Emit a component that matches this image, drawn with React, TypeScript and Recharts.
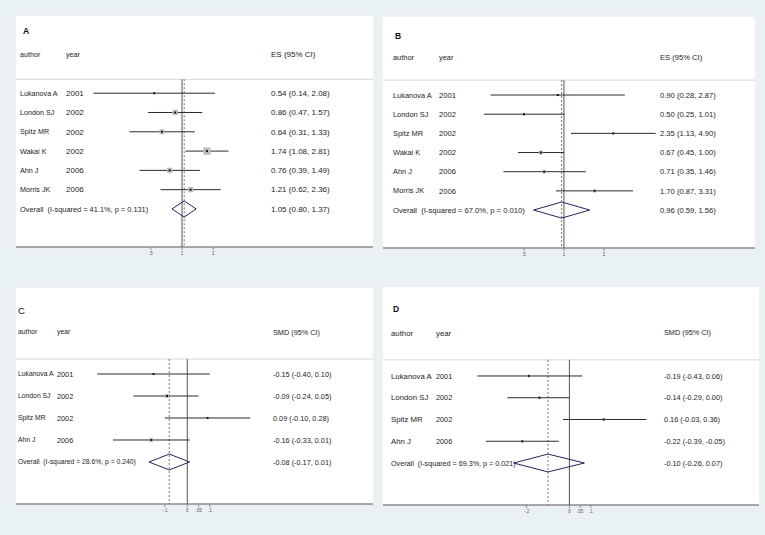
import React from "react";
import {
  ScatterChart,
  Scatter,
  XAxis,
  YAxis,
  ReferenceLine,
  CartesianGrid,
} from "recharts";

// ---- panel A (ES, log scale) ----
const authorsA = ["Lukanova A", "London SJ", "Spitz MR", "Wakai K", "Ahn J", "Morris JK"];
const yearsA = [2001, 2002, 2002, 2002, 2006, 2006];
const esA = [0.54, 0.86, 0.64, 1.74, 0.76, 1.21];
const loA = [0.14, 0.47, 0.31, 1.08, 0.39, 0.62];
const hiA = [2.08, 1.57, 1.33, 2.81, 1.49, 2.36];
const weightsA = [3, 17, 14, 32, 17, 17];
const overallA = [1.05, 0.8, 1.37];
const hetA = [41.1, 0.131];

// ---- panel B (ES, log scale) ----
const authorsB = ["Lukanova A", "London SJ", "Spitz MR", "Wakai K", "Ahn J", "Morris JK"];
const yearsB = [2001, 2002, 2002, 2002, 2006, 2006];
const esB = [0.9, 0.5, 2.35, 0.67, 0.71, 1.7];
const loB = [0.28, 0.25, 1.13, 0.45, 0.35, 0.87];
const hiB = [2.87, 1.01, 4.9, 1.0, 1.46, 3.31];
const weightsB = [7, 13, 11, 29, 20, 20];
const overallB = [0.96, 0.59, 1.56];
const hetB = [67.0, 0.01];

// ---- panel C (SMD) ----
const authorsC = ["Lukanova A", "London SJ", "Spitz MR", "Ahn J"];
const yearsC = [2001, 2002, 2002, 2006];
const esC = [-0.15, -0.09, 0.09, -0.16];
const loC = [-0.4, -0.24, -0.1, -0.33];
const hiC = [0.1, 0.05, 0.28, 0.01];
const weightsC = [9, 44, 9, 38];
const overallC = [-0.08, -0.17, 0.01];
const hetC = [28.6, 0.24];

// ---- panel D (SMD) ----
const authorsD = ["Lukanova A", "London SJ", "Spitz MR", "Ahn J"];
const yearsD = [2001, 2002, 2002, 2006];
const esD = [-0.19, -0.14, 0.16, -0.22];
const loD = [-0.43, -0.29, -0.03, -0.39];
const hiD = [0.06, 0.0, 0.36, -0.05];
const weightsD = [24, 26, 26, 24];
const overallD = [-0.1, -0.26, 0.07];
const hetD = [69.3, 0.021];

const ticksRatio = [0.5, 1, 2];
const tickLabelsRatio = [".5", "1", "2"];
const ticksC = [-0.1, 0, 0.05, 0.1];
const tickLabelsC = ["-.1", "0", ".05", ".1"];
const ticksD = [-0.2, 0, 0.05, 0.1];
const tickLabelsD = ["-.2", "0", ".05", ".1"];

const FONT = "'Liberation Sans', Arial, sans-serif";
const BG = "#e9f1f3";
const INK = "#1c1c1c";

interface Layout {
  left: number;
  top: number;
  width: number;
  height: number;
  margin: { top: number; left: number; right: number };
  axisHeight: number;
  log: boolean;
  xDomain: [number, number];
  yDomain: [number, number];
  titleRow: number;
  headerRow: number;
  lineRow: number;
  cols: { title: number; author: number; year: number; est: number };
  fonts: { label: number; num: number; overall: number };
  diamondHalf: number;
  boxScale: number;
  titleBold: boolean;
}

const layoutA: Layout = {
  left: 0, top: 0, width: 383, height: 268,
  margin: { top: 16, left: 16, right: 10 }, axisHeight: 21,
  log: true, xDomain: [0.025, 69.7], yDomain: [-4, 7.97],
  titleRow: -3.2, headerRow: -2, lineRow: -0.72,
  cols: { title: 7, author: 4, year: 50, est: 255 },
  fonts: { label: 7.2, num: 8.0, overall: 7.4 },
  diamondHalf: 0.42, boxScale: 1.29, titleBold: true,
};
const layoutB: Layout = {
  left: 383, top: 0, width: 382, height: 268,
  margin: { top: 17, left: 0, right: 10 }, axisHeight: 20,
  log: true, xDomain: [0.04343, 27.4], yDomain: [-4.07, 7.98],
  titleRow: -3.08, headerRow: -1.98, lineRow: -0.78,
  cols: { title: 12, author: 10, year: 56, est: 277 },
  fonts: { label: 7.4, num: 7.6, overall: 7.6 },
  diamondHalf: 0.42, boxScale: 0.74, titleBold: true,
};
const layoutC: Layout = {
  left: 0, top: 268, width: 383, height: 267,
  margin: { top: 20, left: 16, right: 10 }, axisHeight: 31,
  log: false, xDomain: [-0.761, 0.825], yDomain: [-3.91, 5.91],
  titleRow: -2.86, headerRow: -1.91, lineRow: -0.68,
  cols: { title: 2, author: 2, year: 41, est: 257 },
  fonts: { label: 6.8, num: 7.3, overall: 6.8 },
  diamondHalf: 0.36, boxScale: 0.65, titleBold: false,
};
const layoutD: Layout = {
  left: 383, top: 268, width: 382, height: 267,
  margin: { top: 19, left: 0, right: 6 }, axisHeight: 30,
  log: false, xDomain: [-0.871, 0.886], yDomain: [-4.09, 5.93],
  titleRow: -3.08, headerRow: -1.98, lineRow: -0.74,
  cols: { title: 10, author: 8, year: 53, est: 281 },
  fonts: { label: 7.8, num: 7.3, overall: 7.2 },
  diamondHalf: 0.41, boxScale: 0.53, titleBold: true,
};

interface PanelProps {
  title: string;
  effect: string;
  authors: string[];
  years: number[];
  es: number[];
  lo: number[];
  hi: number[];
  weights: number[];
  overall: number[];
  het: number[];
  nullValue: number;
  ticks: number[];
  tickLabels: string[];
  layout: Layout;
}

const fmt = (v: number) => v.toFixed(2);
const ciText = (e: number, l: number, h: number) => `${fmt(e)} (${fmt(l)}, ${fmt(h)})`;
const noDot = () => <g />;

const ForestPanel = ({
  title, effect, authors, years, es, lo, hi, weights, overall, het,
  nullValue, ticks, tickLabels, layout,
}: PanelProps) => {
  const n = authors.length;
  const studies = authors.map((_, i) => ({ x: es[i], y: i, lo: lo[i], hi: hi[i], w: weights[i] }));
  const [oEs, oLo, oHi] = overall;
  const h = layout.diamondHalf;
  const yBottom = layout.yDomain[1];
  const diamond = [
    { x: oLo, y: n }, { x: oEs, y: n - h }, { x: oHi, y: n }, { x: oEs, y: n + h }, { x: oLo, y: n },
  ];
  const nullLine = [{ x: nullValue, y: layout.lineRow }, { x: nullValue, y: yBottom }];
  const overallLine = [{ x: oEs, y: layout.lineRow }, { x: oEs, y: yBottom }];
  // text rows: title, header, studies, overall (only the row is scaled, columns are fixed)
  const textRows = [layout.titleRow, layout.headerRow, ...studies.map((s) => s.y), n].map((r) => ({
    x: nullValue,
    y: r,
  }));
  const px = layout.margin.left;
  const c = layout.cols;
  const f = layout.fonts;

  const lab = { fontFamily: FONT, fontSize: f.label, fill: INK };
  const num = { fontFamily: FONT, fontSize: f.num, fill: INK };

  const RowText = (props: any) => {
    const { cy, payload } = props;
    const v = payload.y;
    const y = cy;
    if (v === layout.titleRow) {
      return (
        <text x={px + c.title} y={y} dy="0.35em" fontFamily={FONT}
          fontSize={layout.titleBold ? 8.5 : 9.5} fontWeight={layout.titleBold ? "bold" : "normal"} fill="#111">
          {title}
        </text>
      );
    }
    if (v === layout.headerRow) {
      return (
        <g>
          <text x={px + c.author} y={y} dy="0.35em" {...lab}>author</text>
          <text x={px + c.year} y={y} dy="0.35em" {...lab}>year</text>
          <text x={px + c.est} y={y} dy="0.35em" {...num}>{`${effect} (95% CI)`}</text>
        </g>
      );
    }
    if (v === n) {
      return (
        <g>
          <text x={px + c.author} y={y} dy="0.35em" fontFamily={FONT} fontSize={f.overall} fill={INK}
            style={{ whiteSpace: "pre" }}>
            {`Overall  (I-squared = ${het[0].toFixed(1)}%, p = ${het[1].toFixed(3)})`}
          </text>
          <text x={px + c.est} y={y} dy="0.35em" {...num}>{ciText(oEs, oLo, oHi)}</text>
        </g>
      );
    }
    const i = v as number;
    return (
      <g>
        <text x={px + c.author} y={y} dy="0.35em" {...lab}>{authors[i]}</text>
        <text x={px + c.year} y={y} dy="0.35em" {...num}>{years[i]}</text>
        <text x={px + c.est} y={y} dy="0.35em" {...num}>{ciText(es[i], lo[i], hi[i])}</text>
      </g>
    );
  };

  const StudyBox = (props: any) => {
    const { cx, cy, payload } = props;
    const side = Math.max(2, layout.boxScale * Math.sqrt(payload.w));
    return (
      <g>
        <rect x={cx - side / 2} y={cy - side / 2} width={side} height={side} fill="#bdbdbd" />
        <rect x={cx - 1} y={cy - 1} width={2} height={2} fill="#111" />
      </g>
    );
  };

  return (
    <div style={{ position: "absolute", left: layout.left, top: layout.top }}>
      <ScatterChart
        width={layout.width}
        height={layout.height}
        margin={{ top: layout.margin.top, left: layout.margin.left, right: layout.margin.right, bottom: 0 }}
      >
        <CartesianGrid fill="#ffffff" stroke="none" horizontal={false} vertical={false} />
        <XAxis
          type="number"
          dataKey="x"
          scale={layout.log ? "log" : "linear"}
          domain={layout.xDomain}
          allowDataOverflow
          ticks={ticks}
          interval={0}
          tickFormatter={(v: number) => tickLabels[ticks.indexOf(v)]}
          height={layout.axisHeight}
          axisLine={{ stroke: "#8c8c8c", strokeWidth: 1.5 }}
          tickLine={{ stroke: "#8c8c8c" }}
          tickSize={3}
          tickMargin={2}
          tick={{ fontSize: 4.5, fill: "#555", fontFamily: FONT }}
        />
        <YAxis type="number" dataKey="y" domain={layout.yDomain} reversed allowDataOverflow hide />
        <ReferenceLine y={layout.lineRow} stroke="#d6d6d6" strokeWidth={1} />
        <Scatter data={nullLine} line={{ stroke: "#555", strokeWidth: 1 }} shape={noDot} isAnimationActive={false} />
        <Scatter
          data={overallLine}
          line={{ stroke: "#b5584f", strokeWidth: 1, strokeDasharray: "2 2" }}
          shape={noDot}
          isAnimationActive={false}
        />
        {studies.map((s) => (
          <Scatter
            key={`ci-${s.y}`}
            data={[{ x: s.lo, y: s.y }, { x: s.hi, y: s.y }]}
            line={{ stroke: "#2b2b2b", strokeWidth: 1 }}
            shape={noDot}
            isAnimationActive={false}
          />
        ))}
        <Scatter data={studies} shape={StudyBox} isAnimationActive={false} />
        <Scatter data={diamond} line={{ stroke: "#23237a", strokeWidth: 1 }} shape={noDot} isAnimationActive={false} />
        <Scatter data={textRows} shape={RowText} isAnimationActive={false} />
      </ScatterChart>
    </div>
  );
};

const App = () => (
  <div style={{ position: "absolute", left: 0, top: 0, width: 765, height: 535, background: BG, overflow: "hidden" }}>
    <ForestPanel title="A" effect="ES" authors={authorsA} years={yearsA} es={esA} lo={loA} hi={hiA}
      weights={weightsA} overall={overallA} het={hetA} nullValue={1}
      ticks={ticksRatio} tickLabels={tickLabelsRatio} layout={layoutA} />
    <ForestPanel title="B" effect="ES" authors={authorsB} years={yearsB} es={esB} lo={loB} hi={hiB}
      weights={weightsB} overall={overallB} het={hetB} nullValue={1}
      ticks={ticksRatio} tickLabels={tickLabelsRatio} layout={layoutB} />
    <ForestPanel title="C" effect="SMD" authors={authorsC} years={yearsC} es={esC} lo={loC} hi={hiC}
      weights={weightsC} overall={overallC} het={hetC} nullValue={0}
      ticks={ticksC} tickLabels={tickLabelsC} layout={layoutC} />
    <ForestPanel title="D" effect="SMD" authors={authorsD} years={yearsD} es={esD} lo={loD} hi={hiD}
      weights={weightsD} overall={overallD} het={hetD} nullValue={0}
      ticks={ticksD} tickLabels={tickLabelsD} layout={layoutD} />
  </div>
);

export default App;
